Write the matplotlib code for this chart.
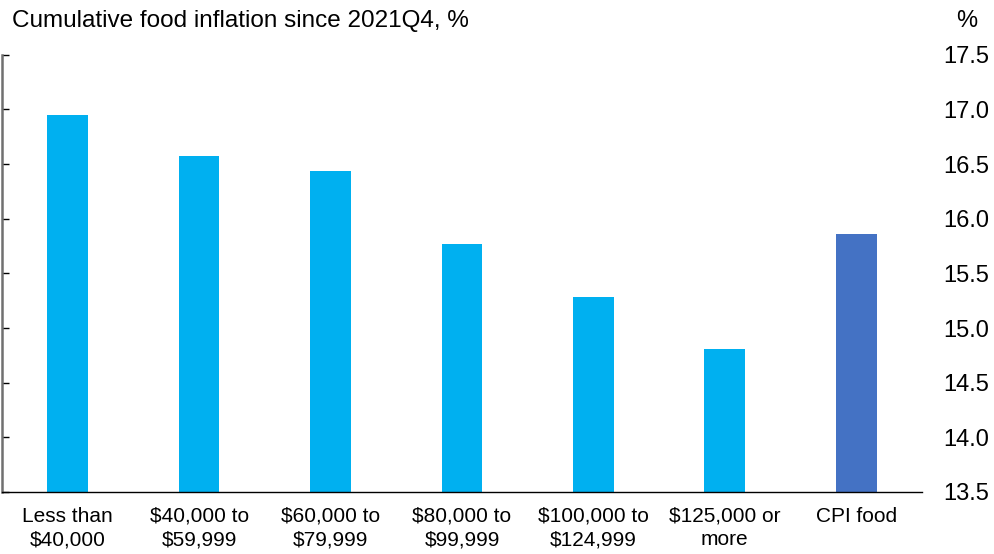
import matplotlib.pyplot as plt
import numpy as np

plt.rcParams['font.family'] = ['Liberation Sans', 'DejaVu Sans']

categories = ['Less than\n$40,000', '$40,000 to\n$59,999', '$60,000 to\n$79,999',
              '$80,000 to\n$99,999', '$100,000 to\n$124,999', '$125,000 or\nmore', 'CPI food']
values = [16.95, 16.57, 16.44, 15.77, 15.28, 14.81, 15.86]
yticks = [13.5, 14.0, 14.5, 15.0, 15.5, 16.0, 16.5, 17.0, 17.5]

colors = ['#00B0F0'] * 6 + ['#4472C4']

fig = plt.figure(figsize=(9.95, 5.54), dpi=100)
ax = fig.add_axes([0.002, 0.112, 0.9246, 0.789])

x = np.arange(len(categories))
ax.bar(x, np.array(values) - 13.5, bottom=13.5, width=0.31, color=colors)

ax.set_xlim(-0.5, len(categories) - 0.5)
ax.set_ylim(13.5, 17.5)
ax.set_yticks(yticks)
ax.set_yticklabels([f'{t:.1f}' for t in yticks])
ax.set_xticks(x)
ax.set_xticklabels(categories, fontsize=15, linespacing=1.3)

ax.tick_params(axis='y', left=True, right=False, labelleft=False, labelright=True,
               direction='in', length=5, width=1, labelsize=17, pad=15.5)
ax.tick_params(axis='x', bottom=False, pad=7)

for s in ['top', 'right']:
    ax.spines[s].set_visible(False)
ax.spines['left'].set_color('#707070')
ax.spines['left'].set_linewidth(1.8)
ax.spines['bottom'].set_color('black')
ax.spines['bottom'].set_linewidth(1)

fig.text(0.012, 0.962, 'Cumulative food inflation since 2021Q4, %', fontsize=17.5, va='center', ha='left')
fig.text(0.972, 0.962, '%', fontsize=17, va='center', ha='center')

fig.savefig('out.png', dpi=100)
